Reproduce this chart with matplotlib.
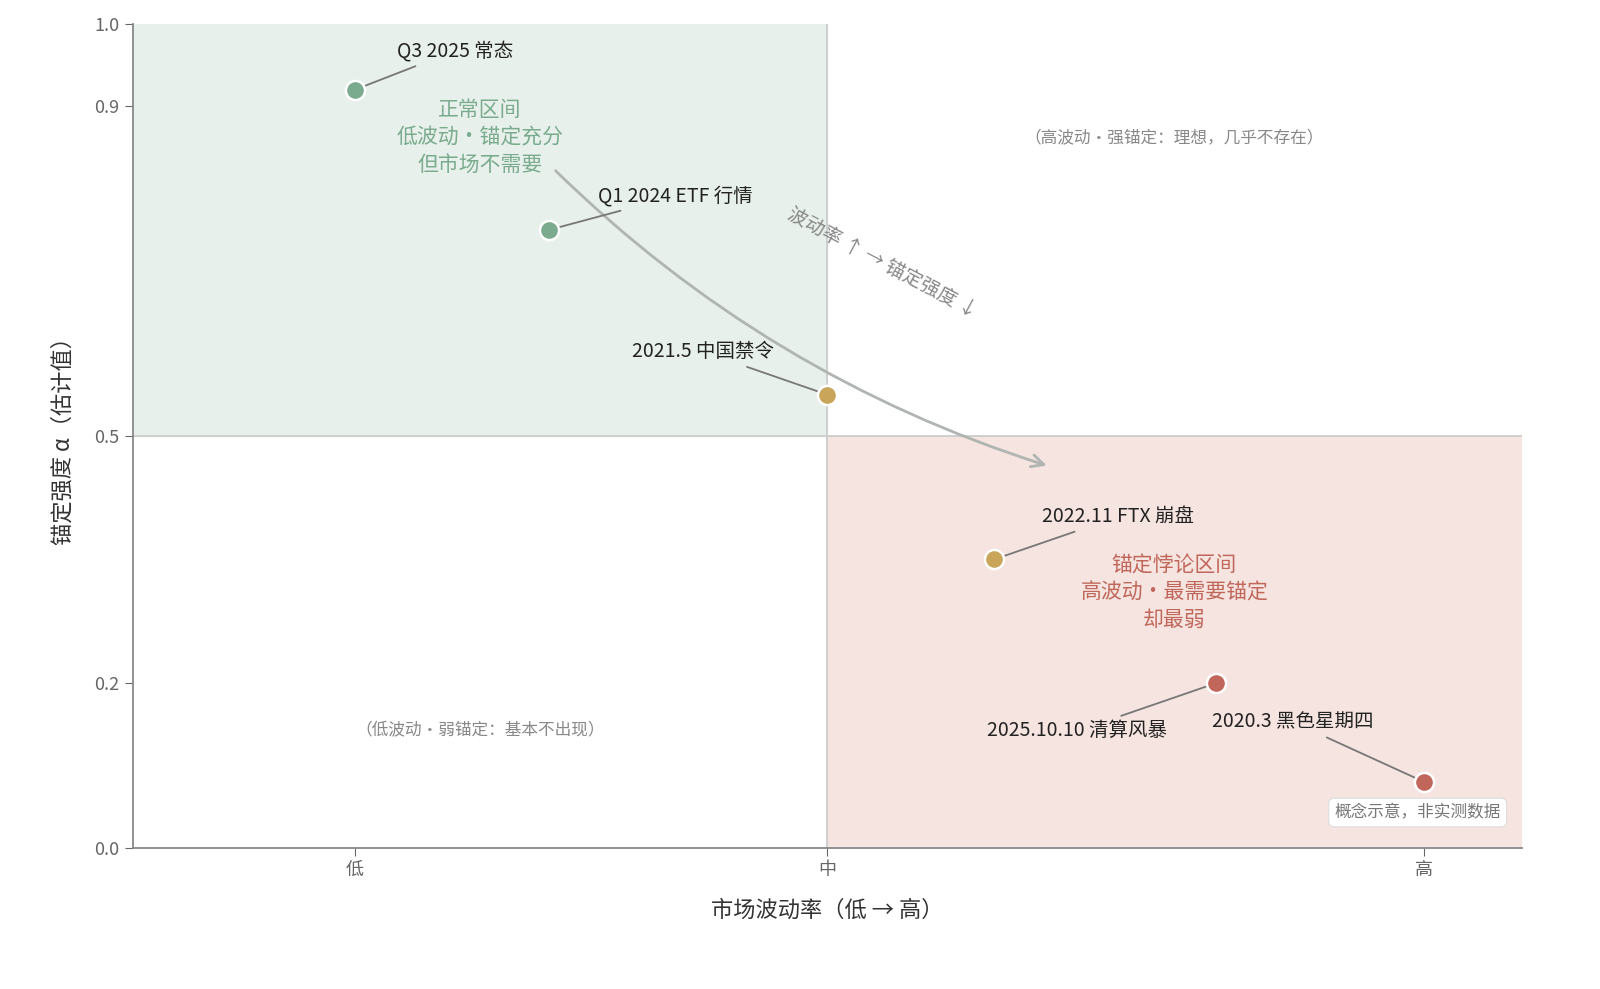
import matplotlib
matplotlib.use("Agg")
import matplotlib.pyplot as plt
from matplotlib.patches import Rectangle

plt.rcParams['font.family'] = ['Noto Sans CJK SC', 'DejaVu Sans']

labels = ["Q3 2025 常态", "Q1 2024 ETF 行情", "2021.5 中国禁令", "2022.11 FTX 崩盘", "2025.10.10 清算风暴", "2020.3 黑色星期四"]
vol = [0.16, 0.30, 0.50, 0.62, 0.78, 0.93]
alpha = [0.92, 0.75, 0.55, 0.35, 0.20, 0.08]
colors = ["#7aab8e", "#7aab8e", "#c9a55a", "#c9a55a", "#c0665a", "#c0665a"]
label_pos = [(0.19, 0.967, "left"), (0.335, 0.791, "left"), (0.462, 0.602, "right"),
             (0.655, 0.402, "left"), (0.745, 0.142, "right"), (0.777, 0.153, "left")]
x_ticks = [0.16, 0.5, 0.93]
x_ticklabels = ["低", "中", "高"]
y_ticks = [0.0, 0.2, 0.5, 0.9, 1.0]

fig = plt.figure(figsize=(16, 9.89), dpi=100)
ax = fig.add_axes([0.083, 0.1426, 0.868, 0.8334])
ax.set_xlim(0, 1)
ax.set_ylim(0, 1)

ax.add_patch(Rectangle((0, 0.5), 0.5, 0.5, color="#e7f0ea", zorder=0))
ax.add_patch(Rectangle((0.5, 0), 0.5, 0.5, color="#f5e4df", zorder=0))
ax.axvline(0.5, color="#cccccc", lw=1.3, zorder=1)
ax.axhline(0.5, color="#cccccc", lw=1.3, zorder=1)

for s in ["top", "right"]:
    ax.spines[s].set_visible(False)
for s in ["left", "bottom"]:
    ax.spines[s].set_color("#888888")
    ax.spines[s].set_linewidth(1.3)

ax.set_xticks(x_ticks)
ax.set_xticklabels(x_ticklabels)
ax.set_yticks(y_ticks)
ax.set_yticklabels([f"{v:.1f}" for v in y_ticks])
ax.tick_params(colors="#666666", labelsize=13, length=6)
ax.set_xlabel("市场波动率（低 → 高）", fontsize=16, color="#333333", labelpad=14)
ax.set_ylabel("锚定强度 α（估计值）", fontsize=16, color="#333333", labelpad=14)

for x, y, c, lab, (tx, ty, ha) in zip(vol, alpha, colors, labels, label_pos):
    ax.scatter([x], [y], s=190, color=c, edgecolor="white", linewidth=1.8, zorder=5)
    ax.annotate(lab, xy=(x, y), xytext=(tx, ty), fontsize=14, color="#222222",
                ha=ha, va="center",
                arrowprops=dict(arrowstyle="-", color="#777777", lw=1.3, shrinkA=4, shrinkB=7),
                zorder=4)

ax.annotate("", xy=(0.66, 0.463), xytext=(0.303, 0.824),
            arrowprops=dict(arrowstyle="->", color="#b0b5b2", lw=2,
                            connectionstyle="arc3,rad=0.12", mutation_scale=22))
ax.text(0.54, 0.71, "波动率 ↑ → 锚定强度 ↓", fontsize=14, color="#888888",
        rotation=-28, ha="center", va="center")

ax.text(0.25, 0.862, "正常区间\n低波动・锚定充分\n但市场不需要", fontsize=15, color="#7aab8e",
        ha="center", va="center", linespacing=1.3)
ax.text(0.75, 0.31, "锚定悖论区间\n高波动・最需要锚定\n却最弱", fontsize=15, color="#c0665a",
        ha="center", va="center", linespacing=1.3)
ax.text(0.75, 0.862, "（高波动・强锚定：理想，几乎不存在）", fontsize=12, color="#888888",
        ha="center", va="center")
ax.text(0.25, 0.142, "（低波动・弱锚定：基本不出现）", fontsize=12, color="#888888",
        ha="center", va="center")
ax.text(0.985, 0.043, "概念示意，非实测数据", fontsize=12, color="#777777", ha="right", va="center",
        bbox=dict(boxstyle="round,pad=0.35", fc="white", ec="#dddddd", lw=0.8))

fig.savefig("out.png", dpi=100)
